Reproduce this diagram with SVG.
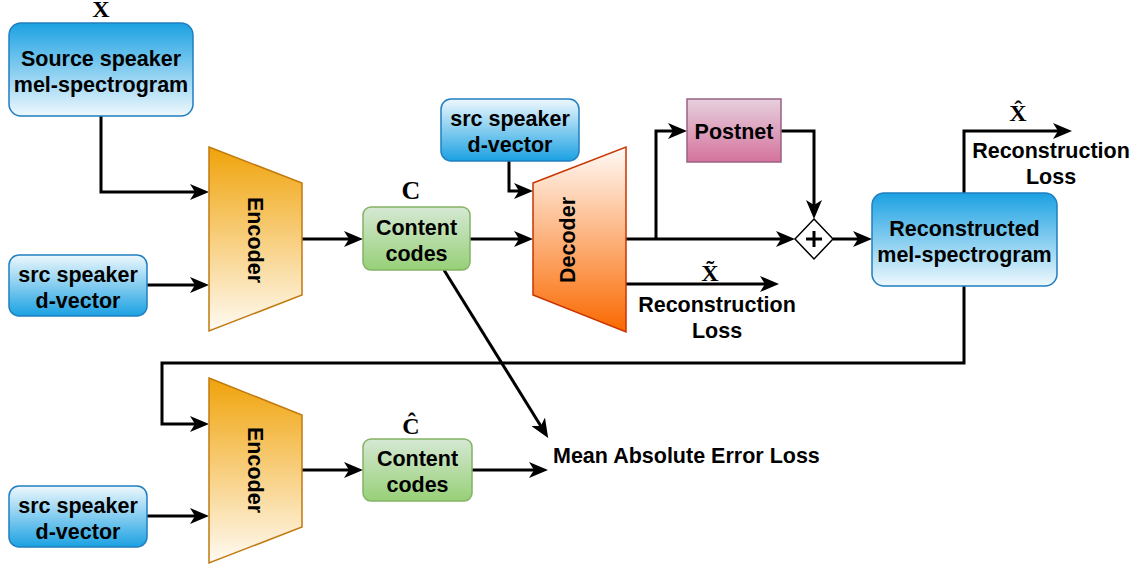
<svg xmlns="http://www.w3.org/2000/svg" width="1146" height="569" viewBox="0 0 1146 569">
  <style>
    .lbl { font-family: "Liberation Sans", Arial, sans-serif; font-weight: bold; font-size: 21.5px; fill: #000; text-anchor: middle; }
    .lbl-start { font-family: "Liberation Sans", Arial, sans-serif; font-weight: bold; font-size: 21.5px; fill: #000; }
    .math { font-family: "Liberation Serif", "Times New Roman", serif; font-weight: bold; font-size: 24px; fill: #000; text-anchor: middle; }
    .blue { stroke: #1f7fc0; stroke-width: 1.5; }
    .enc { fill: url(#gEnc); stroke: #c07a10; stroke-width: 1.5; }
    .dec { fill: url(#gDec); stroke: #c73500; stroke-width: 1.5; }
    .code { fill: url(#gCode); stroke: #82b366; stroke-width: 1.5; }
    .post { fill: url(#gPost); stroke: #996185; stroke-width: 1.5; }
    .wire { fill: none; stroke: #000; stroke-width: 3; marker-end: url(#arrow); }
  </style>
  <defs>
    <linearGradient id="gBlueDown" x1="0" y1="0" x2="0" y2="1">
      <stop offset="0" stop-color="#1ba1e2"/>
      <stop offset="1" stop-color="#eef8fd"/>
    </linearGradient>
    <linearGradient id="gBlueUp" x1="0" y1="1" x2="0" y2="0">
      <stop offset="0" stop-color="#1ba1e2"/>
      <stop offset="1" stop-color="#eef8fd"/>
    </linearGradient>
    <linearGradient id="gEnc" x1="0" y1="0" x2="0" y2="1">
      <stop offset="0" stop-color="#f0a30a"/>
      <stop offset="1" stop-color="#fffaf2"/>
    </linearGradient>
    <linearGradient id="gDec" x1="0" y1="0" x2="0" y2="1">
      <stop offset="0" stop-color="#fffaf6"/>
      <stop offset="1" stop-color="#fa6800"/>
    </linearGradient>
    <linearGradient id="gCode" x1="0" y1="0" x2="0" y2="1">
      <stop offset="0" stop-color="#d5e8d4"/>
      <stop offset="1" stop-color="#97d077"/>
    </linearGradient>
    <linearGradient id="gPost" x1="0" y1="0" x2="0" y2="1">
      <stop offset="0" stop-color="#e6d0de"/>
      <stop offset="1" stop-color="#d5739d"/>
    </linearGradient>
    <!-- notched arrowhead; the reference point sits on the notch so the 3px line hides under it -->
    <marker id="arrow" viewBox="0 0 19 16" refX="5" refY="8" markerWidth="19" markerHeight="16" markerUnits="userSpaceOnUse" orient="auto">
      <path d="M0,0 L19,8 L0,16 L5,8 Z" fill="#000"/>
    </marker>
  </defs>

  <rect width="1146" height="569" fill="#fff"/>

  <!-- connectors -->
  <g id="connectors">
    <path class="wire" d="M101,116 V192 H195"/>
    <path class="wire" d="M147,285 H195"/>
    <path class="wire" d="M302,239 H349"/>
    <path class="wire" d="M470,239 H519"/>
    <path class="wire" d="M509,161 V191 H519"/>
    <path class="wire" d="M626,239 H781"/>
    <path class="wire" d="M656,239 V131 H673"/>
    <path class="wire" d="M781,131 H814 V205"/>
    <path class="wire" d="M833,239 H858"/>
    <path class="wire" d="M626,284 H765"/>
    <path class="wire" d="M964,193 V131 H1058"/>
    <path class="wire" d="M964,286 V363 H162 V424 H195"/>
    <path class="wire" d="M147,516 H195"/>
    <path class="wire" d="M302,470 H349"/>
    <path class="wire" d="M472,470 H534"/>
    <path class="wire" d="M444,270 L540.8,426"/>
  </g>

  <!-- source mel-spectrogram -->
  <g id="source-mel">
    <rect x="9" y="23" width="184" height="93" rx="12" fill="url(#gBlueDown)" class="blue"/>
    <text class="lbl" x="101" y="65.5">Source speaker</text>
    <text class="lbl" x="101" y="91.5">mel-spectrogram</text>
    <text class="math" x="101" y="17">X</text>
  </g>

  <!-- speaker embeddings -->
  <g id="dvec-1">
    <rect x="9" y="255" width="138" height="61" rx="10" fill="url(#gBlueUp)" class="blue"/>
    <text class="lbl" x="78" y="281.5">src speaker</text>
    <text class="lbl" x="78" y="307.5">d-vector</text>
  </g>
  <g id="dvec-2">
    <rect x="441" y="99" width="138" height="62" rx="10" fill="url(#gBlueUp)" class="blue"/>
    <text class="lbl" x="510" y="126">src speaker</text>
    <text class="lbl" x="510" y="152">d-vector</text>
  </g>
  <g id="dvec-3">
    <rect x="9" y="486" width="138" height="61" rx="10" fill="url(#gBlueUp)" class="blue"/>
    <text class="lbl" x="78" y="512.5">src speaker</text>
    <text class="lbl" x="78" y="538.5">d-vector</text>
  </g>

  <!-- encoders -->
  <g id="encoder-1">
    <polygon points="209,147 302,183 302,295 209,331" class="enc"/>
    <text class="lbl" transform="translate(255,240) rotate(90)" y="7.5">Encoder</text>
  </g>
  <g id="encoder-2">
    <polygon points="209,378 302,415 302,527 209,563" class="enc"/>
    <text class="lbl" transform="translate(255,470) rotate(90)" y="7.5">Encoder</text>
  </g>

  <!-- content codes -->
  <g id="codes-1">
    <rect x="363" y="207" width="107" height="63" rx="8" class="code"/>
    <text class="lbl" x="416.5" y="234.5">Content</text>
    <text class="lbl" x="416.5" y="260.5">codes</text>
    <text class="math" x="411" y="199" style="font-size:26px">C</text>
  </g>
  <g id="codes-2">
    <rect x="363" y="439" width="109" height="62" rx="8" class="code"/>
    <text class="lbl" x="417.5" y="466">Content</text>
    <text class="lbl" x="417.5" y="492">codes</text>
    <text class="math" x="411" y="434">Ĉ</text>
  </g>

  <!-- decoder -->
  <g id="decoder">
    <polygon points="533,183 626,147 626,332 533,295" class="dec"/>
    <text class="lbl" transform="translate(567,240) rotate(-90)" y="7.5">Decoder</text>
  </g>

  <!-- postnet -->
  <g id="postnet">
    <rect x="687" y="99" width="94" height="63" class="post"/>
    <text class="lbl" x="734" y="139">Postnet</text>
  </g>

  <!-- residual sum -->
  <g id="sum">
    <polygon points="814,219 833,239 814,259 795,239" fill="#fff" stroke="#000" stroke-width="1.5"/>
    <path d="M806,239 H822 M814,231 V247" stroke="#000" stroke-width="3" fill="none"/>
  </g>

  <!-- reconstructed mel-spectrogram -->
  <g id="reconstructed-mel">
    <rect x="872" y="193" width="185" height="93" rx="12" fill="url(#gBlueDown)" class="blue"/>
    <text class="lbl" x="964.5" y="235.5">Reconstructed</text>
    <text class="lbl" x="964.5" y="261.5">mel-spectrogram</text>
  </g>

  <!-- loss labels -->
  <g id="loss-decoder">
    <text class="math" x="710" y="281">X̃</text>
    <text class="lbl" x="717" y="312">Reconstruction</text>
    <text class="lbl" x="717" y="338">Loss</text>
  </g>
  <g id="loss-postnet">
    <text class="math" x="1018" y="121">X̂</text>
    <text class="lbl" x="1051" y="158">Reconstruction</text>
    <text class="lbl" x="1051" y="184">Loss</text>
  </g>
  <g id="loss-content">
    <text class="lbl-start" x="553" y="463">Mean Absolute Error Loss</text>
  </g>
</svg>
